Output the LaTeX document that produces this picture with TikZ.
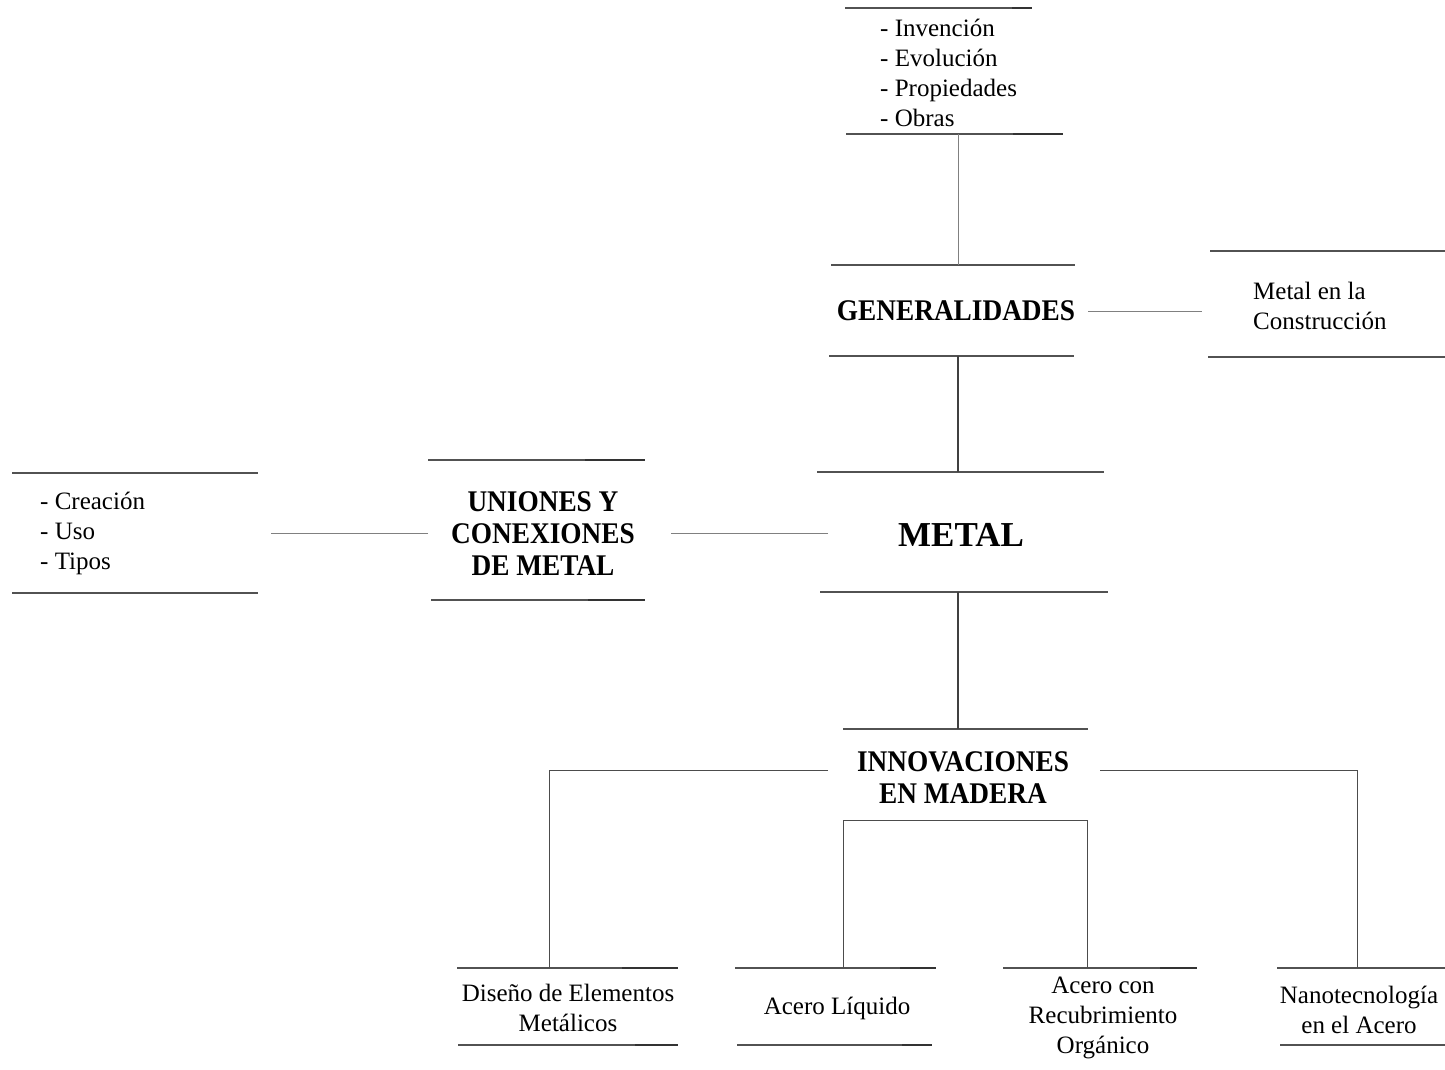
\documentclass[tikz,border=0pt]{standalone}
\usepackage{fontspec}
\setmainfont{LiberationSerif}[Extension=.ttf,UprightFont=*-Regular,BoldFont=*-Bold,ItalicFont=*-Italic,BoldItalicFont=*-BoldItalic]
\newfontfamily\headfont{LiberationSerif}[Extension=.ttf,UprightFont=*-Bold,FakeStretch=0.91]
\begin{document}
\begin{tikzpicture}[x=1pt,y=-1pt,
  boxline/.style={draw=black!68,line width=1.6pt},
  darkpart/.style={draw=black!80,line width=2pt},
  thinconn/.style={draw=black!50,line width=0.9pt},
  thickconn/.style={draw=black!75,line width=1.3pt},
  bracket/.style={draw=black!70,line width=1pt},
  reg/.style={inner sep=0pt,font=\fontsize{25}{30}\selectfont},
  head/.style={inner sep=0pt,font=\fontsize{30}{32}\headfont,align=center},
  big/.style={inner sep=0pt,font=\fontsize{35}{40}\selectfont\bfseries}]
\useasboundingbox (0,0) rectangle (1445,1069);

% ---------- top list box ----------
\node[reg,anchor=west,align=left] (lista) at (880,73) {- Invención\\- Evolución\\- Propiedades\\- Obras};
\draw[boxline] (845,8) -- (1032,8);
\draw[darkpart] (1012,8) -- (1032,8);
\draw[boxline] (846,134) -- (1063,134);
\draw[darkpart] (1013,134) -- (1063,134);
\coordinate (lista-b) at (958,134);

% ---------- GENERALIDADES ----------
\node[head] (gen) at (956,311) {GENERALIDADES};
\draw[boxline] (831,265) -- (1075,265);
\draw[boxline] (829,356) -- (1074,356);
\coordinate (gen-t) at (958,265);
\coordinate (gen-b) at (958,356);
\coordinate (gen-r) at (1088,311);

% ---------- Metal en la Construccion ----------
\node[reg,anchor=west,align=left] (constr) at (1253,306) {Metal en la\\Construcción};
\draw[boxline] (1210,251) -- (1445,251);
\draw[boxline] (1208,357) -- (1445,357);
\coordinate (constr-l) at (1202,311);

% ---------- METAL ----------
\node[big] (metal) at (961,535) {METAL};
\draw[boxline] (817,472) -- (1104,472);
\draw[boxline] (820,592) -- (1108,592);
\coordinate (metal-t) at (958,472);
\coordinate (metal-b) at (958,592);
\coordinate (metal-l) at (828,533);

% ---------- UNIONES ----------
\node[head] (uni) at (543,534) {UNIONES Y\\CONEXIONES\\DE METAL};
\draw[boxline] (428,460) -- (645,460);
\draw[darkpart] (585,460) -- (645,460);
\draw[boxline] (431,600) -- (645,600);
\draw[darkpart] (588,600) -- (645,600);
\coordinate (uni-r) at (671,533);
\coordinate (uni-l) at (428,533);

% ---------- left list ----------
\node[reg,anchor=west,align=left] (lista2) at (40,533) {- Creación\\- Uso\\- Tipos};
\draw[boxline] (12,473) -- (258,473);
\draw[boxline] (12,593) -- (258,593);
\coordinate (lista2-r) at (271,533);

% ---------- INNOVACIONES ----------
\node[head] (inn) at (963,778) {INNOVACIONES\\EN MADERA};
\draw[boxline] (843,729) -- (1088,729);
\coordinate (inn-t) at (958,729);
\coordinate (inn-l) at (828,770);
\coordinate (inn-r) at (1100,770);
\coordinate (inn-bl) at (843,820);
\coordinate (inn-br) at (1087,820);

% ---------- bottom boxes ----------
\node[reg,align=center] (dis) at (568,1008) {Diseño de Elementos\\Metálicos};
\draw[boxline] (457,968) -- (678,968);
\draw[darkpart] (622,968) -- (678,968);
\draw[boxline] (458,1045) -- (678,1045);
\draw[darkpart] (635,1045) -- (678,1045);
\coordinate (dis-t) at (549,968);

\node[reg,align=center] (liq) at (837,1008) {Acero Líquido};
\draw[boxline] (735,968) -- (936,968);
\draw[darkpart] (900,968) -- (936,968);
\draw[boxline] (737,1045) -- (932,1045);
\draw[darkpart] (902,1045) -- (932,1045);
\coordinate (liq-t) at (843,968);

\node[reg,align=center] (rec) at (1103,1018) {Acero con\\Recubrimiento\\Orgánico};
\draw[boxline] (1003,968) -- (1197,968);
\draw[darkpart] (1160,968) -- (1197,968);
\coordinate (rec-t) at (1087,968);

\node[reg,align=center] (nano) at (1359,1010) {Nanotecnología\\en el Acero};
\draw[boxline] (1277,968) -- (1445,968);
\draw[boxline] (1280,1045) -- (1445,1045);
\coordinate (nano-t) at (1357,968);

% ---------- connectors ----------
\draw[thinconn] (lista-b) -- (gen-t);
\draw[thinconn] (gen-r) -- (constr-l);
\draw[thickconn] (gen-b) -- (metal-t);
\draw[thickconn] (metal-b) -- (inn-t);
\draw[thinconn] (metal-l) -- (uni-r);
\draw[thinconn] (uni-l) -- (lista2-r);
\draw[bracket] (inn-l) -| (dis-t);
\draw[bracket] (inn-r) -| (nano-t);
\draw[bracket] (liq-t) -- (inn-bl) -- (inn-br) -- (rec-t);
\end{tikzpicture}
\end{document}
